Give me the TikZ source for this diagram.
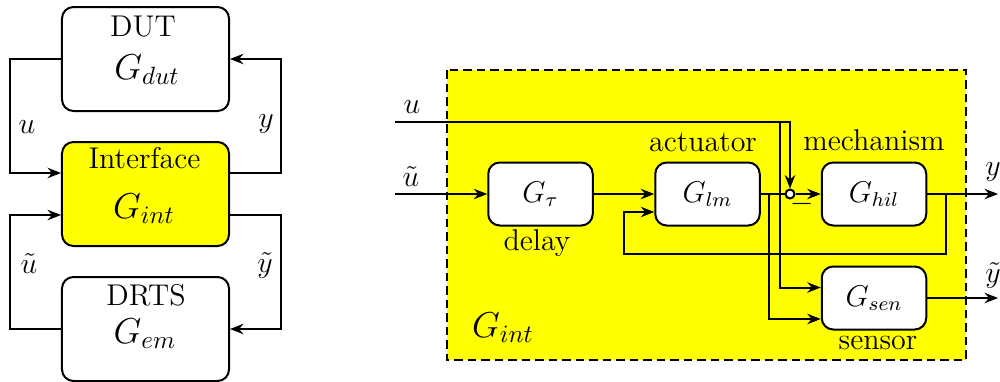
\documentclass[tikz,border=0pt,12pt]{standalone}
\usetikzlibrary{arrows.meta,calc}
\definecolor{ifyellow}{RGB}{255,255,0}
\begin{document}
\begin{tikzpicture}[x=0.4pt,y=-0.4pt,
  every path/.style={line width=0.8pt},
  arr/.style={-{Stealth[length=5.4pt,width=4.2pt,inset=1.8pt]}},
  bigbox/.style={draw,rounded corners=4.6pt,minimum width=66.8pt,minimum height=41.6pt,inner sep=0pt,fill=white},
  smallbox/.style={draw,rounded corners=4.6pt,minimum width=41.8pt,minimum height=25.2pt,inner sep=0pt,fill=white},
  sumnode/.style={draw,circle,fill=white,minimum size=3.6pt,inner sep=0pt},
  lbl/.style={inner sep=0pt},
  bigmath/.style={inner sep=0pt,font=\large}]
\useasboundingbox (0,0) rectangle (1000,381);

% ---------- overall loop: DUT / Interface / DRTS ----------
\node[bigbox] (dut) at (145.5,59) {};
\node[bigbox,fill=ifyellow] (int) at (145.5,194) {};
\node[bigbox] (drts) at (145.5,329) {};

\node[lbl,anchor=base] (tdut) at (143,36) {DUT};
\node[bigmath,anchor=base] (gdut) at (147,79) {$G_{dut}$};
\node[lbl,anchor=base] (tint) at (144.5,168) {Interface};
\node[bigmath,anchor=base] (gint) at (144,218) {$G_{int}$};
\node[lbl,anchor=base] (tdrts) at (146,305) {DRTS};
\node[bigmath,anchor=base] (gem) at (145,343) {$G_{em}$};

\coordinate (L) at (10,0);
\coordinate (R) at (281,0);
\draw[arr] (dut.west) -- (dut.west -| L) |- ([yshift=8.4pt]int.west);
\draw[arr] ([yshift=8.4pt]int.east) -- ([yshift=8.4pt]int.east -| R) |- (dut.east);
\draw[arr] (drts.west) -- (drts.west -| L) |- ([yshift=-8.4pt]int.west);
\draw[arr] ([yshift=-8.4pt]int.east) -- ([yshift=-8.4pt]int.east -| R) |- (drts.east);

\node[lbl] (lu) at (27,127) {$u$};
\node[lbl] (ly) at (266,124) {$y$};
\node[lbl] (lut) at (29,264) {$\tilde{u}$};
\node[lbl] (lyt) at (265,265) {$\tilde{y}$};

% ---------- inside the interface ----------
\draw[fill=ifyellow,dash pattern=on 3.4pt off 2pt] (447,70) rectangle (966,360);

\node[smallbox] (gtau) at (540.5,194) {$G_{\tau}$};
\node[smallbox] (glm) at (707.5,194) {$G_{lm}$};
\node[smallbox] (ghil) at (874,194) {$G_{hil}$};
\node[smallbox] (gsen) at (874,298) {$G_{sen}$};
\node[sumnode] (sum) at (790,194) {};

\node[lbl,anchor=base] (tact) at (703,151) {actuator};
\node[lbl,anchor=base] (tmech) at (874,150) {mechanism};
\node[lbl,anchor=base] (tdel) at (537,250) {delay};
\node[lbl,anchor=base] (tsen) at (878,349) {sensor};
\node[bigmath,anchor=base] (tgint) at (503,337) {$G_{int}$};
\node[lbl] (minus) at (802,203.5) {$-$};

\coordinate (uin) at (395,122);
\coordinate (utin) at (395,194);
\coordinate (ub) at (780,122);
\coordinate (lb) at (769,194);
\coordinate (hb) at (946,194);
\coordinate (fb) at (624,254);
\coordinate (yout) at (998,194);
\coordinate (ytout) at (998,298);

\draw[arr] (utin) -- (gtau.west);
\draw[arr] (gtau.east) -- (glm.west);
\draw (glm.east) -- (sum.west);
\draw[arr] (sum.east) -- (ghil.west);
\draw[arr] (uin) -| (sum.north);
\draw[arr] (ub) |- ([yshift=4.2pt]gsen.west);
\draw[arr] (lb) |- ([yshift=-8.4pt]gsen.west);
\draw[arr] (hb) |- (fb) |- ([yshift=-7.2pt]glm.west);
\draw[arr] (ghil.east) -- (yout);
\draw[arr] (gsen.east) -- (ytout);

\node[lbl] (ru) at (412,107) {$u$};
\node[lbl] (rut) at (411,177) {$\tilde{u}$};
\node[lbl] (ry) at (993,172) {$y$};
\node[lbl] (ryt) at (993,275) {$\tilde{y}$};
\end{tikzpicture}
\end{document}
